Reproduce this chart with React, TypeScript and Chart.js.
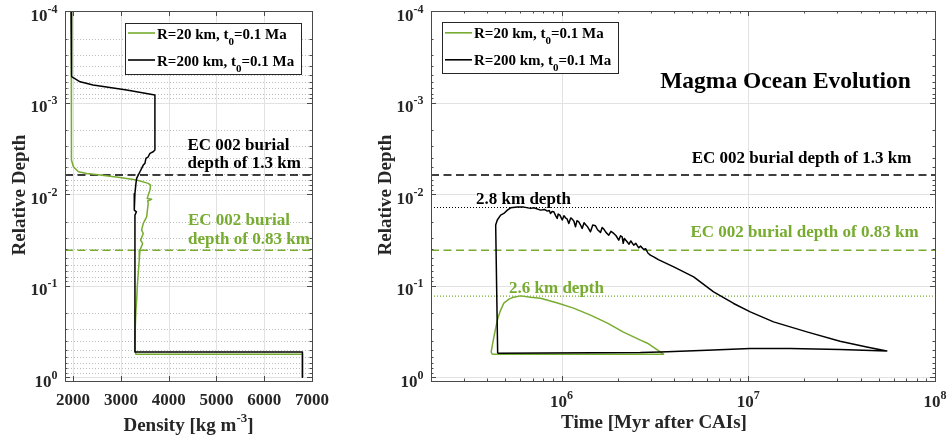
import { useEffect, useRef } from 'react';
import { Chart, registerables } from 'chart.js';

Chart.register(...registerables);

const GREEN = '#77AC30';
const INK = '#000000';
const AXIS = '#4a4a4a';
const LABEL = '#262626';
const SERIF = '"Liberation Serif", "Times New Roman", Times, serif';

// ---------- axes ----------
const densityTicks = [2000, 3000, 4000, 5000, 6000, 7000];
const densityMin = 1830;
const densityMax = 7000;
const depthMin = 1e-4;
const depthMax = 1.1;
const depthDecades = [-4, -3, -2, -1, 0];
const timeMin = 2e5;
const timeMax = 1e8;
const timeDecades = [6, 7, 8];

// ---------- reference depths (relative) ----------
const burialDepthR200 = 0.0062; // EC 002 burial depth of 1.3 km
const burialDepthR20 = 0.041; // EC 002 burial depth of 0.83 km
const maxDepthR200 = 0.014; // 2.8 km depth
const maxDepthR20 = 0.13; // 2.6 km depth

// ---------- left panel: density profiles ----------
const densityR200 = [1958, 1960, 1975, 2146, 2418, 3121, 3712, 3712, 3676, 3608, 3572, 3524, 3503, 3468, 3434, 3399, 3363, 3330, 3315, 3294, 3280, 3325, 3294, 3294, 6800, 6800];
const depthR200 = [1e-4, 4.6e-4, 5.2e-4, 5.93e-4, 6.44e-4, 7.3e-4, 8.28e-4, 3.3e-3, 3.45e-3, 3.59e-3, 3.91e-3, 4.07e-3, 4.62e-3, 4.82e-3, 5.24e-3, 5.7e-3, 6.2e-3, 6.74e-3, 7.63e-3, 9.82e-3, 0.01496, 0.01561, 0.01698, 0.529, 0.529, 1.0];

const densityR20 = [1960, 1962, 1968, 2006, 2111, 2286, 2564, 2981, 3330, 3572, 3622, 3608, 3572, 3551, 3643, 3560, 3572, 3551, 3539, 3468, 3434, 3468, 3413, 3455, 3399, 3384, 3363, 3342, 3330, 3315, 3301, 3294, 3315, 6800, 6800];
const depthR20 = [1e-4, 3.8e-3, 4.25e-3, 5.03e-3, 5.7e-3, 5.94e-3, 6.2e-3, 6.57e-3, 7.03e-3, 7.63e-3, 7.97e-3, 9.04e-3, 0.01026, 0.01115, 0.0114, 0.0119, 0.01264, 0.01561, 0.0177, 0.0209, 0.0247, 0.0269, 0.0318, 0.0346, 0.0409, 0.0526, 0.0736, 0.1031, 0.144, 0.185, 0.282, 0.507, 0.561, 0.561, 1.0];

// ---------- right panel: magma ocean evolution ----------
const timeR200 = [
  4.55e5, 4.44e5, 4.53e5, 4.72e5, 4.91e5, 5.13e5, 5.34e5, 5.8e5, 6.29e5, 6.83e5, 7.11e5,
  7.72e5, 8.1e5, 8.39e5, 8.6e5, 8.73e5, 8.9e5, 9.09e5, 9.3e5, 9.48e5, 9.6e5, 9.8e5,
  1.009e6, 1.03e6, 1.05e6, 1.07e6, 1.094e6, 1.12e6, 1.141e6, 1.165e6, 1.188e6, 1.21e6,
  1.237e6, 1.26e6, 1.29e6, 1.32e6, 1.344e6, 1.38e6, 1.429e6, 1.47e6, 1.52e6, 1.56e6,
  1.617e6, 1.65e6, 1.684e6, 1.73e6, 1.79e6, 1.84e6, 1.904e6, 1.96e6, 2.025e6, 2.07e6,
  2.112e6, 2.14e6, 2.17e6, 2.245e6, 2.3e6, 2.35e6, 2.436e6, 2.5e6, 2.591e6, 2.65e6,
  2.754e6, 2.82e6, 2.9e6, 2.99e6, 3.117e6, 3.3e6, 3.99e6, 5.1e6, 6.52e6, 8.35e6,
  1.025e7, 1.366e7, 2.06e7, 3.1e7, 4.31e7, 5.52e7, 3.1e7, 1.677e7, 1.025e7, 6.01e6,
  3.38e6, 2.646e6, 4.55e5,
];
const depthEvoR200 = [
  0.547, 0.0218, 0.0192, 0.01698, 0.01626, 0.01496, 0.01412, 0.01387, 0.01387, 0.01432, 0.01412,
  0.01496, 0.0147, 0.01534, 0.0151, 0.01626, 0.0155, 0.0156, 0.0172, 0.01845, 0.0165, 0.017,
  0.0192, 0.0172, 0.01815, 0.0186, 0.0209, 0.0182, 0.01875, 0.0198, 0.02277, 0.0195,
  0.0201, 0.0215, 0.0237, 0.0205, 0.02143, 0.0228, 0.0258, 0.0218, 0.0222, 0.0245,
  0.0262, 0.0232, 0.0241, 0.0262, 0.0281, 0.0255, 0.0269, 0.0285, 0.0318, 0.0285,
  0.0293, 0.0345, 0.0305, 0.0332, 0.0352, 0.0325, 0.0361, 0.0345, 0.0386, 0.037,
  0.0402, 0.0395, 0.044, 0.0464, 0.0484, 0.052, 0.0623, 0.0801, 0.1169, 0.1565,
  0.1933, 0.2487, 0.3196, 0.4043, 0.4666, 0.516, 0.498, 0.486, 0.486, 0.507,
  0.529, 0.537, 0.547,
];

const timeR20 = [4.25e5, 4.2e5, 4.31e5, 4.44e5, 4.56e5, 4.72e5, 4.91e5, 5.23e5, 5.54e5, 6.04e5, 6.83e5, 7.72e5, 9.52e5, 1.159e6, 1.429e6, 1.762e6, 2.146e6, 2.646e6, 2.884e6, 3.52e6, 4.25e5];
const depthEvoR20 = [0.561, 0.53, 0.394, 0.291, 0.2265, 0.185, 0.155, 0.1405, 0.1336, 0.1293, 0.1336, 0.137, 0.155, 0.176, 0.21, 0.257, 0.322, 0.394, 0.425, 0.561, 0.561];

// ---------- labels ----------
type Seg = { t: string; s?: 'sup' | 'sub' };
const legendR20: Seg[] = [{ t: 'R=20 km, t' }, { t: '0', s: 'sub' }, { t: '=0.1 Ma' }];
const legendR200: Seg[] = [{ t: 'R=200 km, t' }, { t: '0', s: 'sub' }, { t: '=0.1 Ma' }];
const densityTitle: Seg[] = [{ t: 'Density [kg m' }, { t: '-3', s: 'sup' }, { t: ']' }];
const timeTitle = 'Time [Myr after CAIs]';
const depthTitle = 'Relative Depth';
const panelTitle = 'Magma Ocean Evolution';
const burialR200Text = 'EC 002 burial depth of 1.3 km';
const burialR20Text = 'EC 002 burial depth of 0.83 km';
const burialR200Lines = ['EC 002 burial', 'depth of 1.3 km'];
const burialR20Lines = ['EC 002 burial', 'depth of 0.83 km'];
const maxR200Text = '2.8 km depth';
const maxR20Text = '2.6 km depth';

const pts = (xs: number[], ys: number[]) => xs.map((x, i) => ({ x, y: ys[i] }));

function font(size: number) {
  return `bold ${size}px ${SERIF}`;
}

function drawRich(ctx: CanvasRenderingContext2D, segs: Seg[], x: number, baseline: number, align: 'left' | 'center' | 'right', size: number, small: number, supDy: number, subDy: number, color: string) {
  ctx.save();
  ctx.fillStyle = color;
  ctx.textAlign = 'left';
  ctx.textBaseline = 'alphabetic';
  const widths = segs.map((sg) => {
    ctx.font = font(sg.s ? small : size);
    return ctx.measureText(sg.t).width;
  });
  const total = widths.reduce((p, c) => p + c, 0);
  let cx = align === 'left' ? x : align === 'right' ? x - total : x - total / 2;
  segs.forEach((sg, i) => {
    ctx.font = font(sg.s ? small : size);
    const dy = sg.s === 'sup' ? supDy : sg.s === 'sub' ? subDy : 0;
    ctx.fillText(sg.t, cx, baseline + dy);
    cx += widths[i];
  });
  ctx.restore();
}

function text(ctx: CanvasRenderingContext2D, t: string, x: number, baseline: number, align: CanvasTextAlign, size: number, color: string) {
  ctx.save();
  ctx.font = font(size);
  ctx.fillStyle = color;
  ctx.textAlign = align;
  ctx.textBaseline = 'alphabetic';
  ctx.fillText(t, x, baseline);
  ctx.restore();
}

function seg(ctx: CanvasRenderingContext2D, x1: number, y1: number, x2: number, y2: number) {
  ctx.beginPath();
  ctx.moveTo(x1, y1);
  ctx.lineTo(x2, y2);
  ctx.stroke();
}

const crisp = (v: number) => Math.round(v) + 0.5;

function drawLegend(ctx: CanvasRenderingContext2D, x: number, y: number, w: number, h: number) {
  ctx.save();
  ctx.fillStyle = '#ffffff';
  ctx.fillRect(x, y, w, h);
  ctx.strokeStyle = '#262626';
  ctx.lineWidth = 1;
  ctx.strokeRect(crisp(x), crisp(y), Math.round(w), Math.round(h));
  ctx.lineWidth = 1.6;
  ctx.strokeStyle = GREEN;
  seg(ctx, x + 3, y + 10.5, x + 30, y + 10.5);
  ctx.strokeStyle = INK;
  seg(ctx, x + 3, y + 37.5, x + 30, y + 37.5);
  ctx.restore();
  drawRich(ctx, legendR20, x + 32, y + 16, 'left', 15, 11, -6, 6, INK);
  drawRich(ctx, legendR200, x + 32, y + 43, 'left', 15, 11, -6, 6, INK);
}

function drawYAxis(ctx: CanvasRenderingContext2D, chart: any) {
  const a = chart.chartArea;
  const ys = chart.scales.y;
  ctx.save();
  ctx.strokeStyle = AXIS;
  ctx.lineWidth = 1;
  for (const d of depthDecades) {
    const py = crisp(ys.getPixelForValue(10 ** d));
    seg(ctx, a.left, py, a.left + 5, py);
    seg(ctx, a.right - 5, py, a.right, py);
    for (let m = 2; m <= 9; m++) {
      const v = m * 10 ** d;
      if (v > depthMax) continue;
      const pm = crisp(ys.getPixelForValue(v));
      seg(ctx, a.left, pm, a.left + 2.5, pm);
      seg(ctx, a.right - 2.5, pm, a.right, pm);
    }
  }
  ctx.restore();
  for (const d of depthDecades) {
    const py = ys.getPixelForValue(10 ** d);
    drawRich(ctx, [{ t: '10' }, { t: String(d), s: 'sup' }], a.left - 7.5, py + 9.5, 'right', 17, 12, -8, 0, LABEL);
  }
  ctx.save();
  ctx.translate(a.left - 40, (a.top + a.bottom) / 2 - 1);
  ctx.rotate(-Math.PI / 2);
  text(ctx, depthTitle, 0, 0, 'center', 19, LABEL);
  ctx.restore();
}

function drawBorder(ctx: CanvasRenderingContext2D, a: any) {
  ctx.save();
  ctx.strokeStyle = AXIS;
  ctx.lineWidth = 1;
  ctx.strokeRect(crisp(a.left), crisp(a.top), Math.round(a.right - a.left), Math.round(a.bottom - a.top));
  ctx.restore();
}

const leftDecor = {
  id: 'leftDecor',
  beforeDatasetsDraw(chart: any) {
    const { ctx, chartArea: a, scales } = chart;
    const xs = scales.x;
    const ys = scales.y;
    ctx.save();
    ctx.lineWidth = 1;
    ctx.strokeStyle = '#bdbdbd';
    ctx.setLineDash([1, 2]);
    for (const d of depthDecades) {
      for (let m = 2; m <= 9; m++) {
        const v = m * 10 ** d;
        if (v > depthMax) continue;
        const py = crisp(ys.getPixelForValue(v));
        seg(ctx, a.left, py, a.right, py);
      }
    }
    ctx.setLineDash([]);
    ctx.strokeStyle = '#e2e2e2';
    for (const d of depthDecades) {
      const py = crisp(ys.getPixelForValue(10 ** d));
      seg(ctx, a.left, py, a.right, py);
    }
    for (const t of densityTicks) {
      const px = crisp(xs.getPixelForValue(t));
      seg(ctx, px, a.top, px, a.bottom);
    }
    ctx.restore();
  },
  afterDatasetsDraw(chart: any) {
    const { ctx, chartArea: a, scales } = chart;
    const xs = scales.x;
    drawBorder(ctx, a);
    ctx.save();
    ctx.strokeStyle = AXIS;
    ctx.lineWidth = 1;
    for (const t of densityTicks) {
      const px = crisp(xs.getPixelForValue(t));
      seg(ctx, px, a.bottom, px, a.bottom - 5);
      seg(ctx, px, a.top, px, a.top + 5);
    }
    ctx.restore();
    for (const t of densityTicks) {
      text(ctx, String(t), xs.getPixelForValue(t), a.bottom + 24, 'center', 17, LABEL);
    }
    drawYAxis(ctx, chart);
    drawRich(ctx, densityTitle, (a.left + a.right) / 2, a.bottom + 50, 'center', 19, 13, -9, 0, LABEL);
    drawLegend(ctx, a.left + 60, a.top + 11.5, 176, 51);
    text(ctx, burialR200Lines[0], a.left + 122.5, a.top + 139, 'left', 17, INK);
    text(ctx, burialR200Lines[1], a.left + 122.5, a.top + 157, 'left', 17, INK);
    text(ctx, burialR20Lines[0], a.left + 123, a.top + 214, 'left', 17, GREEN);
    text(ctx, burialR20Lines[1], a.left + 123, a.top + 233, 'left', 17, GREEN);
  },
};

const rightDecor = {
  id: 'rightDecor',
  beforeDatasetsDraw(chart: any) {
    const { ctx, chartArea: a, scales } = chart;
    const xs = scales.x;
    const ys = scales.y;
    ctx.save();
    ctx.lineWidth = 1;
    ctx.strokeStyle = '#e2e2e2';
    for (const d of depthDecades) {
      const py = crisp(ys.getPixelForValue(10 ** d));
      seg(ctx, a.left, py, a.right, py);
    }
    for (const d of timeDecades) {
      const px = crisp(xs.getPixelForValue(10 ** d));
      seg(ctx, px, a.top, px, a.bottom);
    }
    ctx.restore();
  },
  afterDatasetsDraw(chart: any) {
    const { ctx, chartArea: a, scales } = chart;
    const xs = scales.x;
    drawBorder(ctx, a);
    ctx.save();
    ctx.strokeStyle = AXIS;
    ctx.lineWidth = 1;
    for (let d = 5; d <= 7; d++) {
      for (let m = 1; m <= 9; m++) {
        const v = m * 10 ** d;
        if (v < timeMin || v > timeMax) continue;
        const px = crisp(xs.getPixelForValue(v));
        const len = m === 1 ? 5 : 2.5;
        seg(ctx, px, a.bottom, px, a.bottom - len);
        seg(ctx, px, a.top, px, a.top + len);
      }
    }
    ctx.restore();
    for (const d of timeDecades) {
      drawRich(ctx, [{ t: '10' }, { t: String(d), s: 'sup' }], xs.getPixelForValue(10 ** d), a.bottom + 26, 'center', 17, 12, -8, 0, LABEL);
    }
    drawYAxis(ctx, chart);
    text(ctx, timeTitle, a.left + 223, a.bottom + 47, 'center', 19, LABEL);
    drawLegend(ctx, a.left + 11, a.top + 11.3, 176, 51);
    text(ctx, panelTitle, a.left + 354.5, a.top + 77.3, 'center', 23.5, INK);
    text(ctx, burialR200Text, a.left + 370.5, a.top + 151.7, 'center', 17, INK);
    text(ctx, burialR20Text, a.left + 373.5, a.top + 225.7, 'center', 17, GREEN);
    text(ctx, maxR200Text, a.left + 92.5, a.top + 193, 'center', 17, INK);
    text(ctx, maxR20Text, a.left + 125.5, a.top + 281.7, 'center', 17, GREEN);
  },
};

function curve(data: { x: number; y: number }[], color: string, order: number, extra: any = {}) {
  return {
    data,
    showLine: true,
    borderColor: color,
    backgroundColor: color,
    borderWidth: 1.5,
    pointRadius: 0,
    pointHoverRadius: 0,
    tension: 0,
    fill: false,
    borderJoinStyle: 'round',
    order,
    ...extra,
  };
}

function baseOptions(padding: any, x: any) {
  return {
    animation: false,
    responsive: false,
    maintainAspectRatio: false,
    events: [],
    layout: { padding },
    scales: {
      x: { ...x, display: false },
      y: { type: 'logarithmic', min: depthMin, max: depthMax, reverse: true, display: false },
    },
    plugins: { legend: { display: false }, tooltip: { enabled: false } },
  };
}

export default function App() {
  const leftRef = useRef<HTMLCanvasElement>(null);
  const rightRef = useRef<HTMLCanvasElement>(null);

  useEffect(() => {
    const left = new Chart(leftRef.current as HTMLCanvasElement, {
      type: 'scatter',
      data: {
        datasets: [
          curve(pts(densityR200, depthR200), INK, 0),
          curve(pts(densityR20, depthR20), GREEN, 1),
          curve(pts([densityMin, densityMax], [burialDepthR200, burialDepthR200]), INK, 2, { borderDash: [8, 4.5] }),
          curve(pts([densityMin, densityMax], [burialDepthR20, burialDepthR20]), GREEN, 2, { borderDash: [8, 4.5] }),
        ],
      },
      options: baseOptions({ left: 65, right: 635, top: 11, bottom: 59 }, { type: 'linear', min: densityMin, max: densityMax }),
      plugins: [leftDecor],
    } as any);

    const right = new Chart(rightRef.current as HTMLCanvasElement, {
      type: 'scatter',
      data: {
        datasets: [
          curve(pts(timeR200, depthEvoR200), INK, 0),
          curve(pts(timeR20, depthEvoR20), GREEN, 1),
          curve(pts([timeMin, timeMax], [burialDepthR200, burialDepthR200]), INK, 2, { borderDash: [8, 4.5] }),
          curve(pts([timeMin, timeMax], [burialDepthR20, burialDepthR20]), GREEN, 2, { borderDash: [8, 4.5] }),
          curve(pts([timeMin, timeMax], [maxDepthR200, maxDepthR200]), INK, 2, { borderDash: [1, 2], borderWidth: 1.2 }),
          curve(pts([timeMin, timeMax], [maxDepthR20, maxDepthR20]), GREEN, 2, { borderDash: [1, 2], borderWidth: 1.2 }),
        ],
      },
      options: baseOptions({ left: 431, right: 12, top: 11, bottom: 59 }, { type: 'logarithmic', min: timeMin, max: timeMax }),
      plugins: [rightDecor],
    } as any);

    return () => {
      left.destroy();
      right.destroy();
    };
  }, []);

  return (
    <div style={{ position: 'fixed', left: 0, top: 0, width: 947, height: 440, background: '#ffffff', overflow: 'hidden' }}>
      <canvas ref={leftRef} width={947} height={440} style={{ position: 'absolute', left: 0, top: 0 }} />
      <canvas ref={rightRef} width={947} height={440} style={{ position: 'absolute', left: 0, top: 0 }} />
    </div>
  );
}
